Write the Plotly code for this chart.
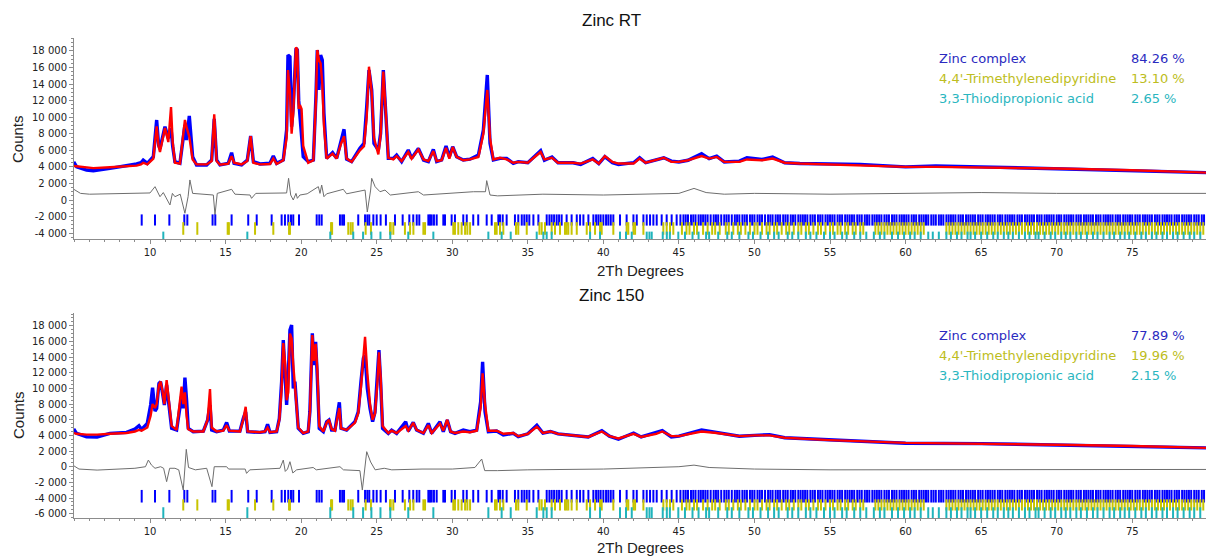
import plotly.graph_objects as go

# ---------------- data ----------------
tth1 = [4.95, 5.15, 5.8, 6.25, 7.35, 8.45, 9.11, 9.4, 9.55, 9.82, 10.22, 10.44, 10.57, 10.66, 10.99, 11.21, 11.39, 11.5,
        11.65, 11.98, 12.31, 12.42, 12.6, 12.82, 13.08, 13.75, 14.08, 14.25, 14.41, 14.63, 15.18, 15.4, 15.56, 16.06,
        16.44, 16.66, 16.84, 17.28, 17.94, 18.16, 18.38, 18.82, 19.04, 19.13, 19.26, 19.37, 19.48, 19.66, 19.75, 19.84,
        19.92, 20.03, 20.14, 20.47, 20.81, 20.98, 21.07, 21.18, 21.29, 21.4, 21.51, 21.69, 22.08, 22.35, 22.64, 22.84,
        23.01, 23.34, 23.89, 24.16, 24.34, 24.49, 24.67, 24.82, 25.11, 25.26, 25.44, 25.59, 25.77, 26.1, 26.32, 26.65,
        27.09, 27.31, 27.76, 28.1, 28.42, 28.75, 28.97, 29.3, 29.59, 29.81, 30.03, 30.29, 30.73, 31.17, 31.73, 32.06,
        32.32, 32.5, 32.72, 33.16, 33.6, 34.04, 34.37, 35.0, 35.85, 36.1, 36.6, 37.0, 38.0, 38.5, 39.3, 39.7, 40.1, 40.6,
        41.0, 42.0, 42.4, 42.8, 43.5, 44.0, 44.5, 45.0, 45.6, 46.5, 47.0, 47.5, 48.0, 49.0, 49.5, 50.5, 51.2, 52.0, 53.0,
        55.0, 57.0, 60.0, 62.0, 65.0, 70.0, 75.0, 80.0]
obs1 = [4600, 4000, 3620, 3540, 3820, 4100, 4350, 4500, 4830, 4430, 5230, 9660, 6640, 6200, 8860, 7450, 8660, 6500,
        4630, 4430, 9060, 7250, 10150, 5230, 4230, 4230, 4830, 9800, 4830, 4230, 4430, 5720, 4430, 4230,
        4830, 7730, 4630, 4350, 4430, 5310, 4430, 4830, 8450, 17510, 17300, 8860, 11270, 18320, 18120, 12000,
        10060, 8450, 5230, 4630, 4830, 12480, 18120, 13290, 17510, 16900, 10470, 5030, 5720, 5030, 7250, 8540,
        4930, 4630, 6240, 6840, 11270, 15700, 13290, 6840, 6040, 8050, 15700, 10470, 5030, 5030, 5430, 4630,
        6040, 5030, 6240, 4830, 4630, 6120, 4630, 4830, 6520, 5230, 6440, 5230, 4830, 4930, 5430, 8450,
        15100, 6840, 4830, 5030, 5030, 4430, 4630, 4500, 5960, 4800, 5200, 4500, 4500, 4300, 5000, 4400, 5230, 4500,
        4300, 4500, 5100, 4500, 4900, 5100, 4700, 4600, 4800, 5600, 5000, 5300, 4600, 4700, 5100, 4900, 5200, 4500, 4400,
        4300, 4300, 4000, 4100, 4000, 3800, 3600, 3300]
calc1 = [4100, 4050, 3900, 3850, 3950, 4050, 4150, 4300, 4500, 4300, 5000, 8900, 6500, 5800, 8700, 7000, 11230, 7000,
         4500, 4400, 9660, 8800, 7650, 4900, 4300, 4300, 4700, 10350, 4700, 4250, 4400, 5300, 4500, 4300,
         4700, 7700, 4500, 4300, 4350, 5000, 4350, 4800, 7500, 15700, 13000, 8000, 10500, 18440, 18200, 11000,
         11470, 11000, 6500, 4500, 4800, 12000, 18120, 16900, 16500, 14000, 9000, 5000, 5600, 5000, 6800, 7700,
         5000, 4600, 6000, 6500, 10000, 16100, 13000, 7500, 5500, 7800, 15500, 11000, 5100, 4900, 5300, 4700,
         5800, 5000, 6100, 4900, 4700, 5900, 4700, 4800, 6300, 5000, 6400, 5200, 4800, 4900, 5200, 8000,
         13290, 7500, 4900, 5100, 4900, 4500, 4600, 4500, 5800, 4900, 5100, 4500, 4500, 4400, 4900, 4400, 5300, 4600,
         4400, 4400, 5000, 4500, 4800, 5100, 4600, 4600, 4800, 5300, 5000, 5200, 4600, 4600, 4900, 4800, 5000, 4500, 4400,
         4300, 4200, 4000, 4000, 3950, 3800, 3600, 3300]

dtth1 = [4.95, 5.4, 6.0, 8.0, 9.5, 10.0, 10.33, 10.55, 10.66, 10.88, 11.32, 11.48, 11.65, 12.0, 12.31, 12.52, 12.64, 12.82,
         14.19, 14.3, 14.45, 15.4, 15.62, 16.62, 16.72, 17.0, 19.04, 19.17, 19.31, 19.48, 19.66, 19.75, 19.92, 20.4,
         21.14, 21.25, 21.36, 21.51, 21.69, 22.79, 23.01, 24.23, 24.38, 24.6, 24.67, 24.9, 25.22, 25.55, 25.9, 27.76,
         28.1, 31.4, 32.2, 32.28, 32.5, 33.0, 36.0, 40.0, 45.0, 46.0, 46.8, 48.0, 50.0, 55.0, 60.0, 65.0, 70.0, 75.0, 80.0]
diff1 = [1300, 800, 700, 750, 800, 850, 1610, 700, 400, 900, -600, 800, 400, 700, -1600, 400, 2420, 800,
         600, -1800, 800, 1290, 700, 600, 200, 800, 850, 2620, 600, 0, 800, 200, 600, 750,
         1610, 800, 1810, 400, 750, 1290, 750, 1200, -1450, 1200, 2620, 1600, 1000, 1200, 600, 1000,
         600, 1000, 1000, 2340, 600, 500, 700, 600, 800, 1400, 900, 700, 800, 700, 800, 900, 800, 800, 800]

tth2 = [4.95, 5.14, 5.8, 6.5, 7.35, 8.45, 9.0, 9.27, 9.44, 9.82, 10.04, 10.17, 10.33, 10.44, 10.59, 10.7, 10.83, 10.95,
        11.1, 11.25, 11.43, 11.76, 11.98, 12.09, 12.2, 12.31, 12.42, 12.53, 12.86, 13.53, 13.81, 13.97, 14.08, 14.41,
        14.85, 15.07, 15.25, 15.95, 16.17, 16.33, 16.46, 17.28, 17.61, 17.78, 17.94, 18.38, 18.56, 18.71, 18.82, 18.95,
        19.04, 19.15, 19.26, 19.37, 19.48, 19.59, 19.7, 19.81, 20.14, 20.47, 20.58, 20.74, 20.85, 20.96, 21.07, 21.2,
        21.47, 21.69, 21.84, 22.02, 22.24, 22.42, 22.53, 22.64, 23.01, 23.56, 23.78, 23.96, 24.12, 24.23, 24.38, 24.56,
        24.73, 24.89, 25.04, 25.15, 25.26, 25.39, 25.77, 25.99, 26.32, 26.76, 26.92, 27.09, 27.42, 27.64, 28.09, 28.42,
        28.64, 29.19, 29.41, 29.67, 29.89, 30.18, 30.73, 31.17, 31.62, 31.88, 32.01, 32.17, 32.39, 32.94, 33.38, 34.04,
        34.37, 35.0, 35.6, 36.0, 36.5, 37.0, 38.0, 39.0, 39.9, 40.4, 41.0, 42.0, 42.5, 43.5, 43.9, 44.5, 45.0, 46.5, 47.5,
        49.0, 50.0, 51.0, 52.0, 55.0, 60.0, 65.0, 70.0, 75.0, 80.0]
obs2 = [4810, 4260, 3830, 3800, 4260, 4380, 4810, 5240, 4770, 5530, 7880, 10090, 7110, 7450, 10640, 10860, 9370, 7880,
        10430, 7880, 4900, 4680, 7880, 9000, 7450, 11370, 8500, 4900, 4470, 4550, 5960, 7880, 4700, 4470,
        4680, 5660, 4550, 4550, 6170, 7000, 4470, 4380, 4470, 5410, 4380, 4470, 6170, 10860, 16180, 10000,
        7880, 11710, 17450, 18090, 10000, 10860, 8300, 4900, 4260, 4470, 7020, 17030, 12980, 15960, 11490, 4900,
        4470, 5750, 5960, 4680, 4680, 6600, 8220, 4900, 4680, 5750, 7020, 10860, 13840, 14260, 10000, 7450,
        5750, 7000, 11280, 14900, 10860, 4900, 4260, 4680, 4260, 5320, 5750, 4550, 5660, 4680, 4260, 5530,
        4260, 5750, 4470, 5960, 4470, 4260, 4680, 4470, 4680, 8300, 13410, 7000, 4470, 4550, 4050, 4260,
        3830, 4200, 5300, 4300, 4500, 4200, 4000, 3800, 4600, 3900, 3500, 4300, 3800, 4300, 4600, 3800, 3900, 4700, 4400,
        3900, 4000, 4100, 3700, 3400, 3000, 2950, 2800, 2650, 2400]
calc2 = [4300, 4200, 4100, 4100, 4200, 4300, 4500, 4700, 4600, 5000, 6500, 8000, 7500, 8000, 10400, 10900, 9600, 8000,
         11070, 8500, 5200, 4700, 8000, 10220, 8000, 9500, 6500, 4800, 4500, 4500, 6000, 9920, 5000, 4500,
         4600, 5300, 4600, 4500, 6000, 7660, 4500, 4400, 4500, 5000, 4400, 4500, 6000, 10000, 15800, 13000,
         8500, 9500, 17000, 16390, 13000, 10500, 8500, 5000, 4300, 4500, 7000, 16800, 13500, 15700, 12500, 5200,
         4500, 5600, 6000, 4800, 4600, 6500, 7500, 4900, 4700, 5600, 6800, 10200, 14500, 16600, 12000, 8000,
         6000, 6800, 10500, 14600, 11500, 5200, 4300, 4600, 4300, 5000, 5200, 4600, 5600, 4700, 4300, 5300,
         4300, 5500, 4600, 6000, 4500, 4300, 4500, 4400, 4600, 7500, 11920, 8000, 4600, 4600, 4200, 4300,
         3900, 4200, 5100, 4300, 4500, 4200, 4000, 3800, 4500, 3900, 3600, 4200, 3800, 4200, 4500, 3900, 3900, 4500, 4300,
         3900, 4000, 4000, 3700, 3400, 3050, 2950, 2800, 2650, 2400]

dtth2 = [4.95, 5.3, 6.5, 8.0, 9.0, 9.7, 9.89, 10.1, 10.33, 10.7, 10.9, 11.1, 11.3, 11.65, 11.9, 12.2, 12.3, 12.4, 12.55,
         13.0, 13.75, 14.1, 14.25, 15.07, 15.2, 16.3, 16.39, 16.6, 18.6, 18.82, 18.95, 19.1, 19.26, 19.45, 19.7, 20.8,
         21.0, 22.57, 22.8, 23.89, 24.05, 24.2, 24.34, 24.6, 24.9, 25.5, 26.0, 28.0, 30.0, 31.5, 31.95, 32.15, 33.0,
         35.0, 40.0, 45.0, 46.0, 47.0, 50.0, 55.0, 60.0, 70.0, 80.0]
diff2 = [130, -300, -430, -350, -200, 0, 850, 200, -200, 0, -200, -1910, -200, -200, -400, -2980, 0, 2220, -100,
         -400, -200, -2550, 0, 0, -300, -300, -850, -400, -200, 850, -600, -300, 640, -800, -400, -100,
         -400, 0, -400, -500, -2980, 0, 1920, 600, -400, -200, -400, -300, -300, -100, 980, -500, -500,
         -400, -300, 0, 200, -100, -300, -400, -400, -400, -350]

ticks_zinc = [9.45, 10.33, 11.28, 12.27, 12.47, 14.14, 14.32, 15.4, 16.5, 17.06, 18.05, 18.71, 18.93, 19.15, 19.33, 19.48,
              19.86, 21.03, 21.2, 21.36, 22.57, 22.72, 22.84, 23.78, 24.23, 24.38, 24.51, 24.78, 25.0, 25.26, 25.61, 26.21,
              26.72, 27.16, 27.42, 27.65, 27.82, 28.42, 28.53, 28.64, 28.79, 28.97, 29.41, 29.52, 29.96, 30.18, 30.73,
              30.96, 31.39, 31.72, 32.28, 32.61, 33.05, 33.16, 33.34, 33.6, 34.15, 34.37, 34.6, 34.77, 34.93, 35.1, 35.37,
              35.7, 36.25, 36.43, 36.58, 36.74, 36.91, 37.07, 37.24, 37.57, 37.9, 38.24, 38.46, 38.68, 39.01, 39.34,
              39.52, 39.67, 39.82, 40.0, 40.18, 40.33, 40.49, 40.66, 41.1, 41.54, 41.99, 42.21, 42.65, 42.87, 43.09,
              43.31, 43.53, 43.86, 44.19, 44.52, 44.85,
              45.1, 45.3, 45.45, 45.6, 45.8, 45.95, 46.1, 46.3, 46.45, 46.6, 46.75, 46.9, 47.1, 47.3, 47.45, 47.6, 47.8,
              48.0, 48.15, 48.3, 48.5, 48.7, 48.85, 49.0, 49.2, 49.35, 49.5, 49.7, 49.85, 50.0, 50.2, 50.35, 50.5, 50.7,
              50.9, 51.05, 51.2, 51.4, 51.55, 51.7, 51.9, 52.05, 52.2, 52.4, 52.55, 52.7, 52.9, 53.05, 53.2, 53.35, 53.5,
              53.7, 53.85, 54.0, 54.2, 54.35, 54.5, 54.7, 54.85, 55.0, 55.15, 55.3, 55.5, 55.65, 55.8, 56.0, 56.15, 56.3,
              56.45, 56.6, 56.8, 56.95, 57.1, 57.3, 57.45, 57.6, 57.8, 57.95, 58.1, 58.25, 58.4, 58.6, 58.75, 58.9, 59.1,
              59.25, 59.4, 59.6, 59.75, 59.9, 60.05, 60.2, 60.4, 60.55, 60.7, 60.9, 61.05, 61.2, 61.35, 61.5, 61.7,
              61.85, 62.0, 62.2, 62.35, 62.5, 62.7, 62.85, 63.0, 63.15, 63.3, 63.5, 63.65, 63.8, 64.0, 64.15, 64.3,
              64.45, 64.6, 64.8, 64.95, 65.1, 65.3, 65.45, 65.6, 65.75, 65.9, 66.1, 66.25, 66.4, 66.6, 66.75, 66.9,
              67.05, 67.2, 67.4, 67.55, 67.7, 67.9, 68.05, 68.2, 68.35, 68.5, 68.7, 68.85, 69.0, 69.2, 69.35, 69.5,
              69.65, 69.8, 70.0, 70.15, 70.3, 70.5, 70.65, 70.8, 70.95, 71.1, 71.3, 71.45, 71.6, 71.8, 71.95, 72.1,
              72.25, 72.4, 72.6, 72.75, 72.9, 73.1, 73.25, 73.4, 73.55, 73.7, 73.9, 74.05, 74.2, 74.4, 74.55, 74.7,
              74.85, 75.0, 75.2, 75.35, 75.5, 75.7, 75.85, 76.0, 76.15, 76.3, 76.5, 76.65, 76.8, 77.0, 77.15, 77.3,
              77.45, 77.6, 77.8, 77.95, 78.1, 78.3, 78.45, 78.6, 78.75, 78.9, 79.1, 79.25, 79.4, 79.6, 79.75]
ticks_tmdp = [12.2, 13.13, 15.14, 15.22, 16.95, 18.16, 19.2, 19.26, 21.98, 22.05, 23.12, 23.28, 23.41, 24.27, 24.62,
              25.88, 25.93, 26.1, 26.87, 27.21, 27.43, 28.09, 28.2, 30.07, 30.18, 30.4, 30.62, 30.85, 31.0, 31.18,
              32.83, 32.94, 33.16, 33.38, 34.22, 34.37, 34.93, 35.77, 35.92, 36.14, 36.58, 36.8, 37.13, 37.46, 37.57,
              37.68, 37.9, 38.24, 38.9, 39.12, 39.45, 39.78, 39.89, 40.66, 41.54, 41.65, 41.99, 42.1, 42.65, 43.97,
              44.19, 44.41, 44.63,
              45.2, 45.5, 45.7, 46.0, 46.2, 46.6, 46.9, 47.2, 47.4, 47.7, 48.1, 48.3, 48.6, 48.9, 49.1, 49.4, 49.7, 50.0,
              50.2, 50.5, 50.8, 51.0, 51.3, 51.5, 51.8, 52.1, 52.3, 52.6, 52.9, 53.1, 53.4, 53.6, 53.9, 54.2, 54.4, 54.7,
              55.0, 55.2, 55.5, 55.7, 56.0, 56.2, 56.5, 56.7, 57.0, 57.2, 58.0, 58.2, 58.4, 58.6, 58.8, 59.0, 59.2, 59.4,
              59.6, 59.8, 60.0, 60.2, 60.4, 60.6, 60.8, 61.0, 61.2, 62.7, 62.9, 63.1, 63.3, 63.5, 63.7, 63.9, 64.1, 64.3,
              64.5, 64.7, 64.9, 65.1, 65.3, 65.5, 65.7, 65.9, 66.1, 66.3, 66.5, 66.7, 66.9, 67.1, 67.3, 67.5, 67.7, 67.9,
              68.1, 68.3, 68.5, 68.7, 68.9, 69.1, 69.3, 69.5, 69.7, 69.9, 70.1, 70.3, 70.5, 70.7, 70.9, 71.1, 71.3, 71.5,
              71.7, 71.9, 72.1, 72.3, 72.5, 72.7, 72.9, 73.1, 73.3, 73.5, 73.7, 73.9, 74.1, 74.3, 74.5, 74.7, 74.9, 75.1,
              75.3, 75.5, 75.7, 75.9, 76.1, 76.3, 76.5, 76.7, 76.9, 77.1, 77.3, 77.5, 77.7, 77.9, 78.1, 78.3, 78.5, 78.7,
              78.9, 79.1, 79.3, 79.5, 79.7]
ticks_tdpa = [10.88, 16.44, 21.93, 23.45, 24.1, 24.65, 25.25, 25.9, 27.09, 28.75, 32.39, 33.27, 33.87, 35.59, 36.03,
              36.25, 36.58, 39.12, 39.78, 41.1, 41.5, 41.88, 42.87, 43.05, 43.2, 43.93, 44.2, 44.4, 44.96,
              45.4, 45.9, 46.3, 46.8, 47.0, 47.6, 48.2, 48.5, 49.0, 49.6, 49.9, 50.4, 50.9, 51.3, 51.6, 52.2, 52.5, 52.9,
              53.4, 53.7, 54.1, 54.6, 55.0, 55.3, 55.8, 56.1, 56.6, 57.0, 57.4, 57.9, 58.3, 58.6, 59.1, 59.5, 59.9, 60.3,
              60.6, 61.0, 61.5, 61.8, 62.2, 62.7, 63.0, 63.4, 63.7, 64.1, 64.3, 64.6, 65.0, 65.4, 65.8, 66.1, 66.5, 66.8,
              67.1, 67.5, 67.9, 68.2, 68.6, 68.8, 69.2, 69.6, 69.9, 70.3, 70.6, 70.9, 71.3, 71.6, 72.0, 72.4, 72.7, 73.1,
              73.5, 73.8, 74.2, 74.5, 74.8, 75.2, 75.6, 75.9, 76.3, 76.6, 77.0, 77.3, 77.7, 78.0, 78.4, 78.8, 79.1, 79.5]

phase_names = ["Zinc complex", "4,4'-Trimethylenedipyridine", "3,3-Thiodipropionic acid"]
pct_rt = ["84.26 %", "13.10 %", "2.65 %"]
pct_150 = ["77.89 %", "19.96 %", "2.15 %"]
titles = ["Zinc RT", "Zinc 150"]
xtick_vals = [10, 15, 20, 25, 30, 35, 40, 45, 50, 55, 60, 65, 70, 75]
ytick_vals1 = [-4000, -2000, 0, 2000, 4000, 6000, 8000, 10000, 12000, 14000, 16000, 18000]
ytick_vals2 = [-6000, -4000, -2000, 0, 2000, 4000, 6000, 8000, 10000, 12000, 14000, 16000, 18000]

# ---------------- styling ----------------
W, H = 1206, 559
BLUE, RED, GRAY = "#0000ff", "#ff0000", "#6e6e6e"
YEL, CYAN = "#c8c400", "#20b4bc"
TXT_COLORS = ["#2a2ac0", "#bdbd20", "#2ab6c0"]
AX = "#8c8c8c"


def lab(v):
    s = f"{abs(v):,}".replace(",", " ")
    return ("-" if v < 0 else "") + s


def py2paper(py):
    return 1 - py / H


fig = go.Figure()
panels = [
    dict(tth=tth1, obs=obs1, calc=calc1, dx=dtth1, dy=diff1, xa="x", ya="y",
         tick_y=[-2415, -3440, -4410], tick_s=[8, 9, 7]),
    dict(tth=tth2, obs=obs2, calc=calc2, dx=dtth2, dy=diff2, xa="x2", ya="y2",
         tick_y=[-3770, -4880, -5980], tick_s=[9, 8, 9]),
]
for p in panels:
    fig.add_trace(go.Scatter(x=p["dx"], y=p["dy"], mode="lines", line=dict(color=GRAY, width=1),
                             xaxis=p["xa"], yaxis=p["ya"], showlegend=False, hoverinfo="skip"))
    fig.add_trace(go.Scatter(x=p["tth"], y=p["obs"], mode="lines", line=dict(color=BLUE, width=3.4),
                             xaxis=p["xa"], yaxis=p["ya"], showlegend=False))
    fig.add_trace(go.Scatter(x=p["tth"], y=p["calc"], mode="lines", line=dict(color=RED, width=2.4),
                             xaxis=p["xa"], yaxis=p["ya"], showlegend=False))
    for tl, col, ty, ts in zip([ticks_zinc, ticks_tmdp, ticks_tdpa], [BLUE, YEL, CYAN], p["tick_y"], p["tick_s"]):
        fig.add_trace(go.Scatter(x=tl, y=[ty] * len(tl), mode="markers",
                                 marker=dict(symbol="line-ns", size=ts, line=dict(color=col, width=2)),
                                 xaxis=p["xa"], yaxis=p["ya"], showlegend=False, hoverinfo="skip"))

xcommon = dict(range=[4.97, 79.88], domain=[74 / W, 1], showline=True, linecolor=AX, linewidth=1,
               ticks="outside", ticklen=4, tickcolor=AX, tickvals=xtick_vals, showgrid=False, zeroline=False,
               tickfont=dict(family="DejaVu Sans", size=10, color="#222"),
               minor=dict(dtick=1, tick0=0, ticks="outside", ticklen=2, tickcolor=AX))
ycommon = dict(showline=True, linecolor=AX, linewidth=1, ticks="outside", ticklen=4, tickcolor=AX,
               showgrid=False, zeroline=False, tickfont=dict(family="DejaVu Sans", size=10, color="#222"),
               minor=dict(dtick=500, ticks="outside", ticklen=2, tickcolor=AX))

fig.update_layout(
    width=W, height=H, margin=dict(l=0, r=0, t=0, b=0), plot_bgcolor="white", paper_bgcolor="white",
    xaxis=dict(**xcommon, anchor="y"),
    yaxis=dict(**ycommon, range=[-4710, 19565], domain=[py2paper(239), py2paper(38)], anchor="x",
               tickvals=ytick_vals1, ticktext=[lab(v) for v in ytick_vals1]),
    xaxis2=dict(**xcommon, anchor="y2"),
    yaxis2=dict(**ycommon, range=[-6550, 19630], domain=[py2paper(518), py2paper(313)], anchor="x2",
                tickvals=ytick_vals2, ticktext=[lab(v) for v in ytick_vals2]),
)

ann = []
for title, ty, axy, lab_y, cy, pcts in [(titles[0], 20, 270, 58, 139, pct_rt), (titles[1], 295, 547, 335, 415, pct_150)]:
    ann.append(dict(text=title, x=611 / W, y=py2paper(ty), xref="paper", yref="paper", showarrow=False,
                    xanchor="center", yanchor="middle", font=dict(family="Liberation Sans", size=17, color="#111")))
    ann.append(dict(text="2Th Degrees", x=640 / W, y=py2paper(axy), xref="paper", yref="paper", showarrow=False,
                    xanchor="center", yanchor="middle", font=dict(family="Liberation Sans", size=15, color="#222")))
    ann.append(dict(text="Counts", x=18 / W, y=py2paper(cy), xref="paper", yref="paper", showarrow=False,
                    textangle=-90, xanchor="center", yanchor="middle",
                    font=dict(family="Liberation Sans", size=15, color="#222")))
    for i in range(3):
        ann.append(dict(text=phase_names[i], x=937 / W, y=py2paper(lab_y + 20 * i), xref="paper", yref="paper",
                        showarrow=False, xanchor="left", yanchor="middle",
                        font=dict(family="DejaVu Sans", size=13, color=TXT_COLORS[i])))
        ann.append(dict(text=pcts[i], x=1129 / W, y=py2paper(lab_y + 20 * i), xref="paper", yref="paper",
                        showarrow=False, xanchor="left", yanchor="middle",
                        font=dict(family="DejaVu Sans", size=13, color=TXT_COLORS[i])))
fig.update_layout(annotations=ann)

fig.write_html("out.html")
